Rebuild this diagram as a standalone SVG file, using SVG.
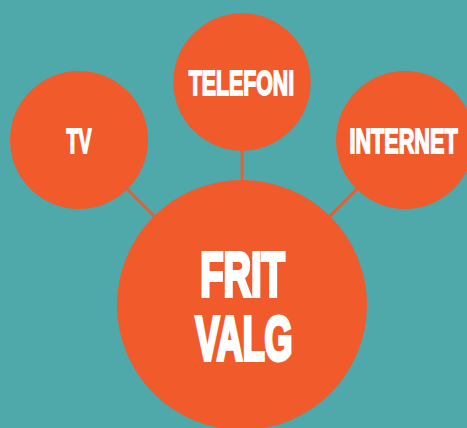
<svg xmlns="http://www.w3.org/2000/svg" width="467" height="428" viewBox="0 0 467 428">
  <style>
    .node { fill: #f15a2b; }
    .link { stroke: #f15a2b; stroke-width: 2.5; fill: none; }
    .label { fill: #ffffff; stroke: #ffffff; stroke-linejoin: miter; vector-effect: non-scaling-stroke; font-family: "Liberation Sans", Arial, sans-serif; font-weight: bold; text-anchor: middle; }
    .small { font-size: 35.5px; stroke-width: 1.5; }
    .big { font-size: 62.5px; stroke-width: 3.3; }
  </style>
  <rect width="467" height="428" fill="#4fa8a9"/>

  <g id="connectors">
    <line class="link" x1="242" y1="150" x2="242" y2="182"/>
    <line class="link" x1="127" y1="189" x2="155" y2="217"/>
    <line class="link" x1="357" y1="189" x2="329" y2="217"/>
  </g>

  <g id="node-telefoni">
    <circle class="node" cx="242" cy="82" r="68.7"/>
    <text class="label small" transform="translate(241.5 94.5) scale(0.6 1)">TELEFONI</text>
  </g>

  <g id="node-tv">
    <circle class="node" cx="79" cy="140" r="69"/>
    <text class="label small" transform="translate(79 152.5) scale(0.55 1)">TV</text>
  </g>

  <g id="node-internet">
    <circle class="node" cx="405" cy="140" r="69"/>
    <text class="label small" transform="translate(403.5 152.5) scale(0.61 1)">INTERNET</text>
  </g>

  <g id="node-frit-valg">
    <circle class="node" cx="242" cy="305" r="125"/>
    <text class="label big" transform="translate(242.5 296) scale(0.61 1)">FRIT</text>
    <text class="label big" transform="translate(244 360) scale(0.575 1)">VALG</text>
  </g>
</svg>
